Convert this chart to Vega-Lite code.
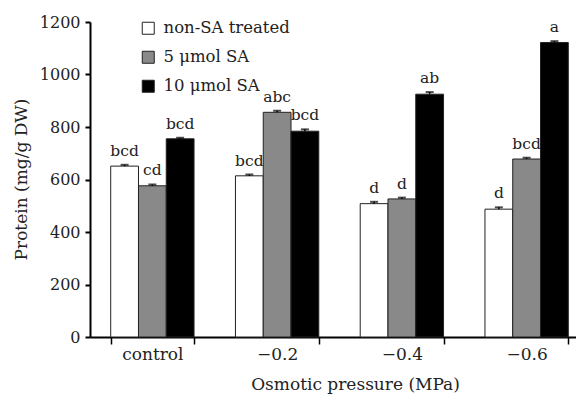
{
  "$schema": "https://vega.github.io/schema/vega-lite/v6.json",
  "autosize": {"type": "none"},
  "width": 486,
  "height": 315,
  "padding": {"left": 90, "top": 22, "right": 0, "bottom": 57},
  "background": "white",
  "config": {
    "view": {"stroke": null},
    "font": "DejaVu Serif",
    "axis": {"labelFont": "DejaVu Serif", "titleFont": "DejaVu Serif", "labelColor": "#222", "titleColor": "#222", "titleFontWeight": "normal", "domainColor": "black", "tickColor": "black"},
    "legend": {"labelFont": "DejaVu Serif"}
  },
  "data": {
    "values": [
      {"group": "control", "treatment": "non-SA treated", "value": 651, "err": 5, "letter": "bcd"},
      {"group": "control", "treatment": "5 μmol SA", "value": 576, "err": 5, "letter": "cd"},
      {"group": "control", "treatment": "10 μmol SA", "value": 755, "err": 4, "letter": "bcd"},
      {"group": "−0.2", "treatment": "non-SA treated", "value": 614, "err": 5, "letter": "bcd"},
      {"group": "−0.2", "treatment": "5 μmol SA", "value": 856, "err": 6, "letter": "abc"},
      {"group": "−0.2", "treatment": "10 μmol SA", "value": 784, "err": 7, "letter": "bcd"},
      {"group": "−0.4", "treatment": "non-SA treated", "value": 508, "err": 7, "letter": "d"},
      {"group": "−0.4", "treatment": "5 μmol SA", "value": 526, "err": 5, "letter": "d"},
      {"group": "−0.4", "treatment": "10 μmol SA", "value": 925, "err": 8, "letter": "ab"},
      {"group": "−0.6", "treatment": "non-SA treated", "value": 487, "err": 7, "letter": "d"},
      {"group": "−0.6", "treatment": "5 μmol SA", "value": 678, "err": 5, "letter": "bcd"},
      {"group": "−0.6", "treatment": "10 μmol SA", "value": 1122, "err": 5, "letter": "a"}
    ]
  },
  "transform": [{"calculate": "datum.value + datum.err", "as": "hi"}],
  "encoding": {
    "x": {
      "field": "group", "type": "nominal", "sort": ["control", "−0.2", "−0.4", "−0.6"],
      "scale": {"range": [0, 499], "paddingInner": 0.332, "paddingOuter": 0.166},
      "axis": {
        "title": "Osmotic pressure (MPa)", "labelAngle": 0, "labelFontSize": 17, "labelBaseline": "alphabetic",
        "labelPadding": 15, "tickSize": 7, "tickWidth": 1.5, "domainWidth": 2, "tickBand": "extent",
        "titleFontSize": 17, "titleX": 265, "titleY": 52, "titleBaseline": "alphabetic", "titleAlign": "center", "titleAnchor": null
      }
    },
    "xOffset": {"field": "treatment", "type": "nominal", "sort": ["non-SA treated", "5 μmol SA", "10 μmol SA"], "scale": {"paddingInner": 0, "paddingOuter": 0}}
  },
  "layer": [
    {
      "mark": {"type": "bar", "stroke": "#222", "strokeWidth": 1},
      "encoding": {
        "y": {
          "field": "value", "type": "quantitative",
          "scale": {"domain": [0, 1200], "nice": false},
          "axis": {
            "title": "Protein (mg/g DW)", "values": [0, 200, 400, 600, 800, 1000, 1200], "format": "d", "grid": false,
            "labelFontSize": 16, "labelPadding": 5, "tickSize": 5, "tickWidth": 2, "domainWidth": 2,
            "titleFontSize": 17, "titleX": -64, "titleY": 157, "titleBaseline": "alphabetic", "titleAngle": -90, "titleAlign": "center", "titleAnchor": null
          }
        },
        "fill": {
          "field": "treatment", "type": "nominal", "sort": ["non-SA treated", "5 μmol SA", "10 μmol SA"],
          "scale": {"domain": ["non-SA treated", "5 μmol SA", "10 μmol SA"], "range": ["#ffffff", "#898989", "#000000"]},
          "legend": {
            "title": null, "orient": "none", "legendX": 50, "legendY": -2, "padding": 0,
            "symbolType": "square", "symbolSize": 144, "symbolStrokeColor": "#222", "symbolStrokeWidth": 1, "symbolOpacity": 1,
            "labelFontSize": 16.5, "labelColor": "#222", "labelOffset": 7, "rowPadding": 12
          }
        }
      }
    },
    {
      "mark": {"type": "rule", "color": "black", "strokeWidth": 1.5},
      "encoding": {"y": {"field": "value", "type": "quantitative"}, "y2": {"field": "hi"}}
    },
    {
      "mark": {"type": "tick", "color": "black", "thickness": 2, "size": 8, "orient": "horizontal"},
      "encoding": {"y": {"field": "hi", "type": "quantitative"}}
    },
    {
      "mark": {"type": "text", "baseline": "alphabetic", "dy": -9, "fontSize": 15.5, "color": "#222", "font": "DejaVu Serif"},
      "encoding": {"y": {"field": "hi", "type": "quantitative"}, "text": {"field": "letter"}}
    }
  ]
}
